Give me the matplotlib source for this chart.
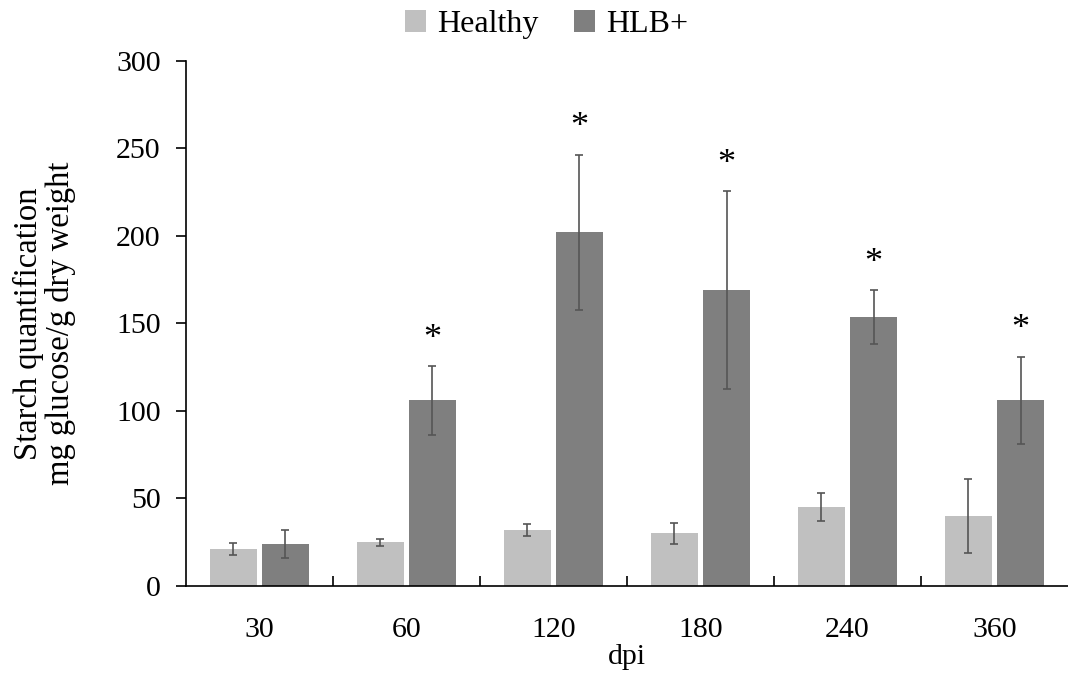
import numpy as np
import matplotlib.pyplot as plt

plt.rcParams['font.family'] = ['Liberation Serif', 'DejaVu Serif']

dpi_labels = ["30", "60", "120", "180", "240", "360"]
healthy = [21, 25, 32, 30, 45, 40]
healthy_err = [3.5, 2, 3.5, 6, 8, 21]
hlb = [24, 106, 202, 169, 153.5, 106]
hlb_err = [8, 19.5, 44.5, 56.5, 15.5, 25]
signif = [False, True, True, True, True, True]

fig = plt.figure(figsize=(10.68, 6.81), dpi=100)
ax = fig.add_axes([0.174, 0.1395, 0.826, 0.771])

x = np.arange(len(dpi_labels)) + 0.5
w = 0.32
gap = 0.035
err_kw = dict(ecolor="#555555", elinewidth=1.2, capsize=3, capthick=1.2)
ax.bar(x - w / 2 - gap / 2, healthy, w, yerr=healthy_err, color="#c0c0c0",
       label="Healthy", error_kw=err_kw)
ax.bar(x + w / 2 + gap / 2, hlb, w, yerr=hlb_err, color="#7f7f7f",
       label="HLB+", error_kw=err_kw)

for xi, v, e, s in zip(x, hlb, hlb_err, signif):
    if s:
        ax.text(xi + w / 2 + gap / 2, v + e + 6, "*", ha="center", va="bottom",
                fontsize=26)

ax.set_xlim(0, len(dpi_labels))
ax.set_ylim(0, 300)
ax.set_yticks(np.arange(0, 301, 50))
ax.set_xticks(x)
ax.set_xticklabels(dpi_labels)
ax.set_xticks(np.arange(1, len(dpi_labels)), minor=True)
ax.tick_params(axis="x", which="major", length=0, pad=22, labelsize=21.5)
ax.tick_params(axis="x", which="minor", direction="in", length=7, width=1.2)
ax.tick_params(axis="y", direction="out", length=7, width=1.2, labelsize=21.5, pad=11)

for side in ["top", "right"]:
    ax.spines[side].set_visible(False)
ax.spines["left"].set_linewidth(1.2)
ax.spines["bottom"].set_linewidth(1.2)

ax.set_xlabel("dpi", fontsize=21.5, labelpad=1)
ax.set_ylabel("Starch quantification\nmg glucose/g dry weight", fontsize=23.5,
              labelpad=29, linespacing=1.05)

ax.legend(loc="center", bbox_to_anchor=(0.409, 1.069), ncol=2, frameon=False,
          fontsize=23, handlelength=0.65, handleheight=0.65, handletextpad=0.35,
          columnspacing=1.1)

fig.savefig("out.png", dpi=100)
